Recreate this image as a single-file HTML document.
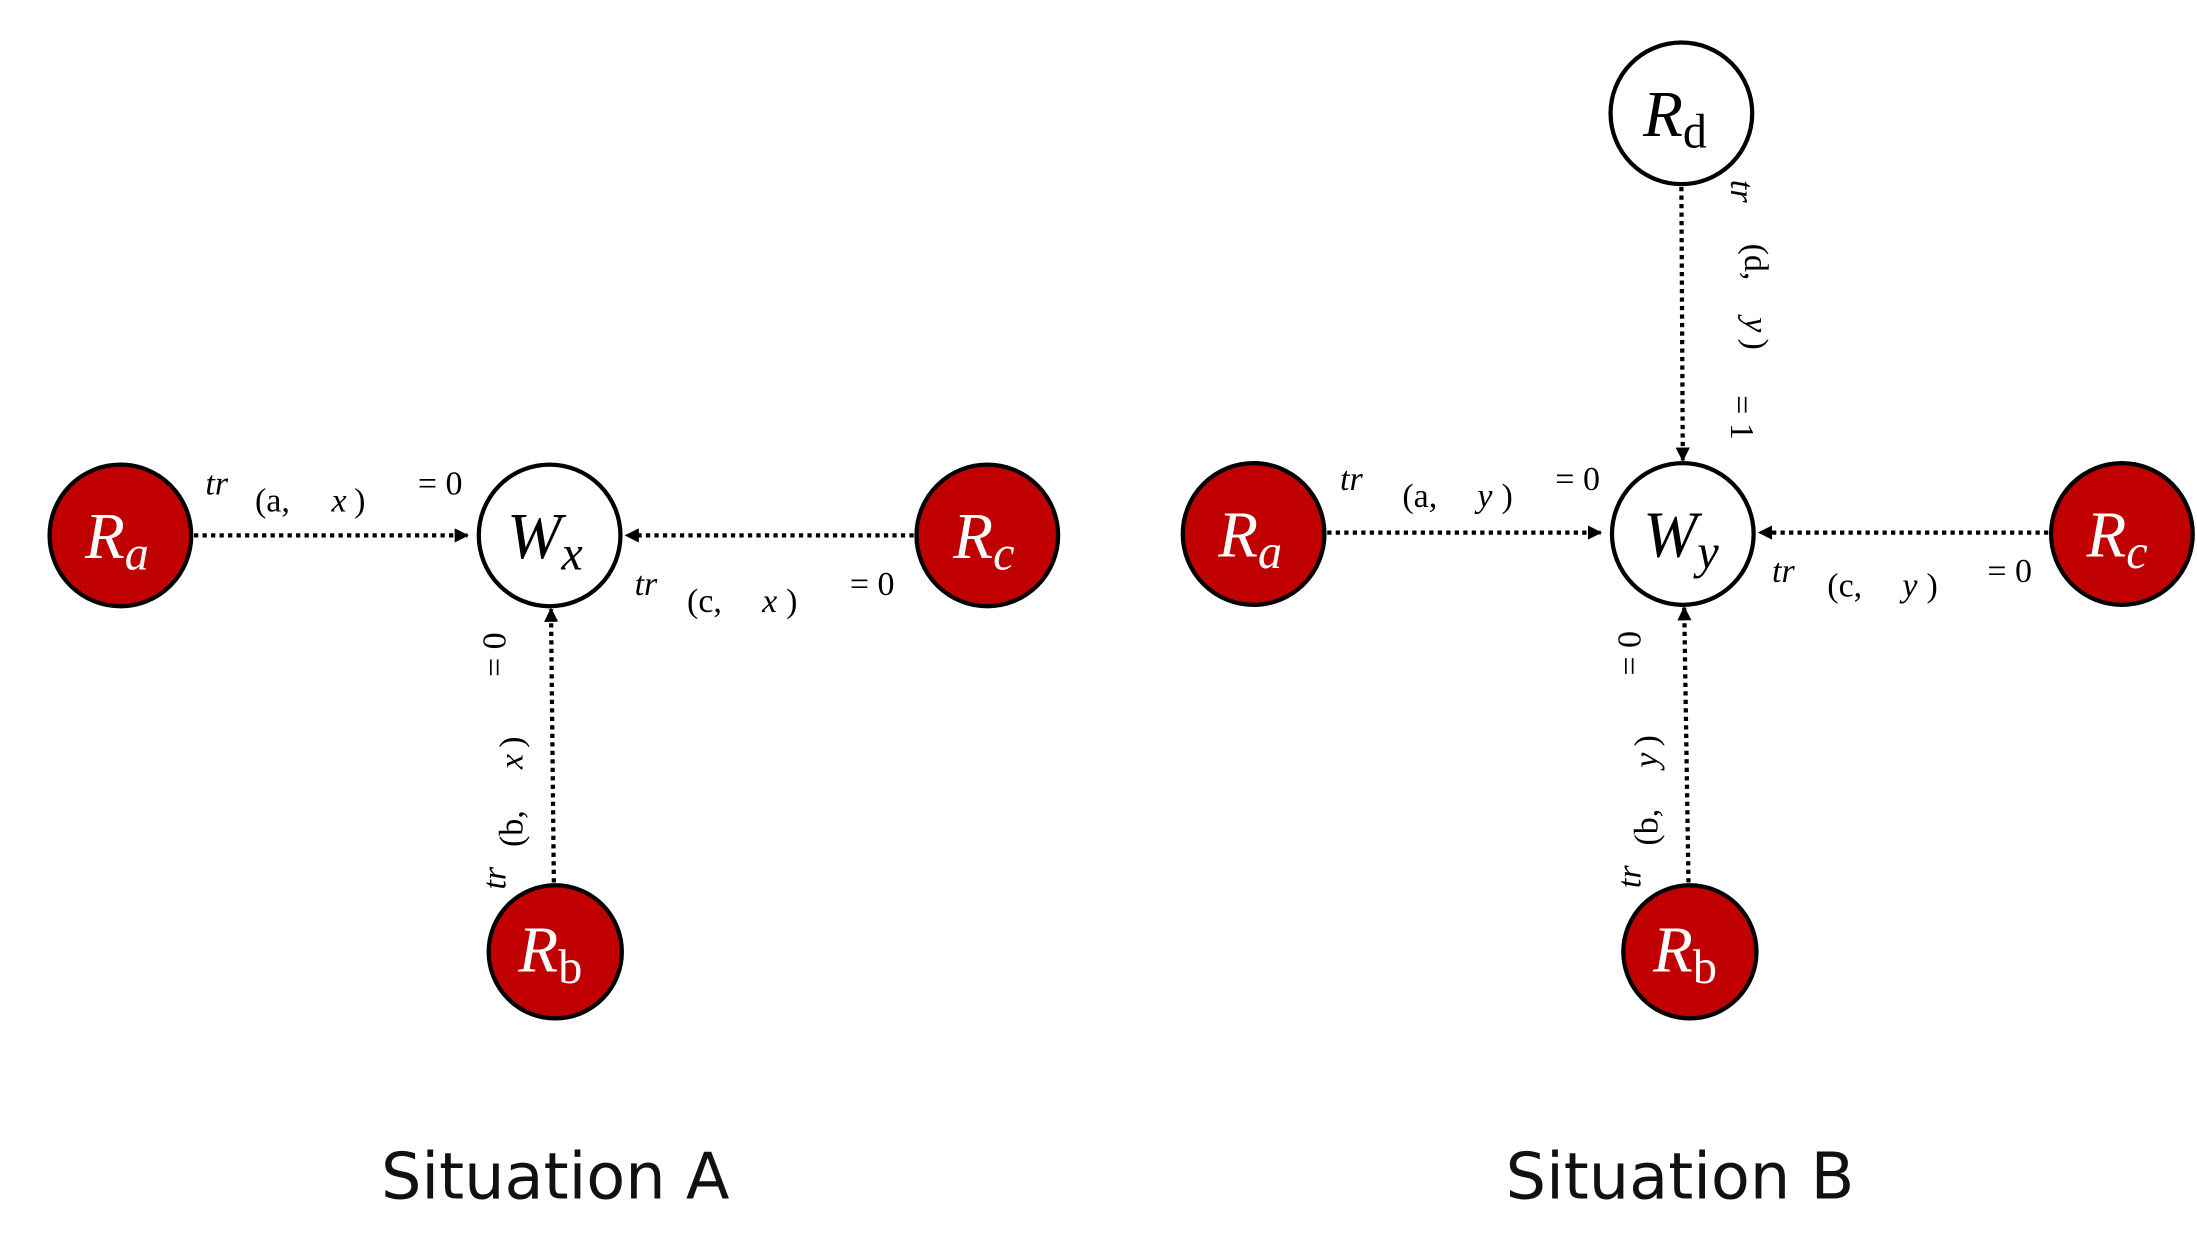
<!DOCTYPE html>
<html><head><meta charset="utf-8"><style>
html,body{margin:0;padding:0;background:#fff;}
svg{display:block;}
.t{font-family:"Liberation Serif",serif;font-size:24px;fill:#000;}
.i{font-style:italic;}
.n{font-family:"Liberation Serif",serif;font-style:italic;font-size:46px;}
.ttl{font-family:"DejaVu Sans","Liberation Sans",sans-serif;font-size:45px;fill:#111;}
</style></head><body>
<svg width="2197" height="1233" viewBox="0 0 1551 870.5" preserveAspectRatio="none" xmlns="http://www.w3.org/2000/svg">
<defs><marker id="ar" markerWidth="10" markerHeight="10" refX="9" refY="5" orient="auto" markerUnits="userSpaceOnUse"><path d="M0,0 L10,5 L0,10 z" fill="#000"/></marker></defs>
<g stroke="#000" stroke-width="3" stroke-dasharray="3,3" fill="none" marker-end="url(#ar)">
<line x1="137" y1="378" x2="330" y2="378"/>
<line x1="645" y1="378" x2="442" y2="378"/>
<line x1="391" y1="623" x2="389" y2="430"/>
<line x1="937" y1="376" x2="1130" y2="376"/>
<line x1="1446" y1="376" x2="1242" y2="376"/>
<line x1="1192" y1="623" x2="1189" y2="429"/>
<line x1="1187" y1="132" x2="1188" y2="325"/>
</g>
<g stroke="#000" stroke-width="3">
<circle cx="85" cy="378" r="50" fill="#c00000"/>
<circle cx="388" cy="378" r="50" fill="#fff"/>
<circle cx="697" cy="378" r="50" fill="#c00000"/>
<circle cx="392" cy="672" r="47" fill="#c00000"/>
<circle cx="885" cy="377" r="50" fill="#c00000"/>
<circle cx="1188" cy="377" r="50" fill="#fff"/>
<circle cx="1498" cy="377" r="50" fill="#c00000"/>
<circle cx="1193" cy="672" r="47" fill="#c00000"/>
<circle cx="1187" cy="80" r="50" fill="#fff"/>
</g>
<g class="n">
<text x="60" y="394" fill="#fff">R<tspan font-size="34" dy="8">a</tspan></text>
<text x="358" y="394" fill="#000">W<tspan font-size="34" dy="8">x</tspan></text>
<text x="673" y="394" fill="#fff">R<tspan font-size="34" dy="8">c</tspan></text>
<text x="366" y="686" fill="#fff">R<tspan font-size="34" dy="8" font-style="normal">b</tspan></text>
<text x="860" y="393" fill="#fff">R<tspan font-size="34" dy="8">a</tspan></text>
<text x="1160" y="393" fill="#000">W<tspan font-size="34" dy="8">y</tspan></text>
<text x="1473" y="393" fill="#fff">R<tspan font-size="34" dy="8">c</tspan></text>
<text x="1167" y="686" fill="#fff">R<tspan font-size="34" dy="8" font-style="normal">b</tspan></text>
<text x="1160" y="96" fill="#000">R<tspan font-size="34" dy="8" font-style="normal">d</tspan></text>
</g>
<g class="t">
<text x="145" y="349" class="i">tr</text><text x="180" y="361">(a,</text><text x="234" y="361" class="i">x</text><text x="250" y="361">)</text><text x="295" y="349">= 0</text>
<text x="448" y="420" class="i">tr</text><text x="485" y="432">(c,</text><text x="538" y="432" class="i">x</text><text x="555" y="432">)</text><text x="600" y="420">= 0</text>
<text x="946" y="346" class="i">tr</text><text x="990" y="358">(a,</text><text x="1043" y="358" class="i">y</text><text x="1060" y="358">)</text><text x="1098" y="346">= 0</text>
<text x="1251" y="411" class="i">tr</text><text x="1290" y="421">(c,</text><text x="1343" y="421" class="i">y</text><text x="1360" y="421">)</text><text x="1403" y="411">= 0</text>
<g transform="translate(357,628) rotate(-90)"><text x="0" y="0" class="i">tr</text><text x="30" y="12">(b,</text><text x="85" y="12" class="i">x</text><text x="100" y="12">)</text><text x="150" y="0">= 0</text></g>
<g transform="translate(1158,627) rotate(-90)"><text x="0" y="0" class="i">tr</text><text x="30" y="12">(b,</text><text x="85" y="12" class="i">y</text><text x="100" y="12">)</text><text x="150" y="0">= 0</text></g>
<g transform="translate(1222,127) rotate(90)"><text x="0" y="0" class="i">tr</text><text x="45" y="-10">(d,</text><text x="97" y="-10" class="i">y</text><text x="112" y="-10">)</text><text x="152" y="0">= 1</text></g>
</g>
<text x="392" y="846" text-anchor="middle" class="ttl">Situation A</text>
<text x="1186" y="846" text-anchor="middle" class="ttl">Situation B</text>
</svg>
</body></html>
